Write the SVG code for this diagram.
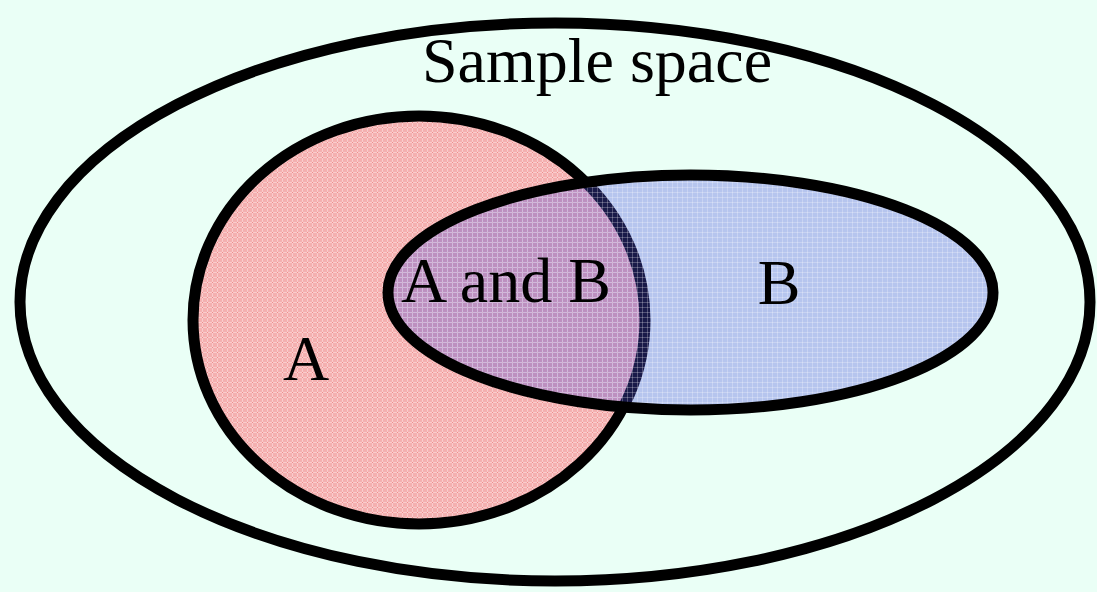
<svg xmlns="http://www.w3.org/2000/svg" width="1097" height="592" viewBox="0 0 1097 592">
<style>
.outline{stroke:#000;stroke-width:11;}
.lbl{font-family:"Liberation Serif","Times New Roman",serif;font-size:64px;fill:#000;}
</style>
<defs>
<pattern id="pa" width="5" height="5" patternUnits="userSpaceOnUse">
<rect width="5" height="5" fill="#f4b0b0"/>
<rect y="2" width="5" height="1" fill="#f9cccc"/>
<rect x="2" width="1" height="5" fill="#f9cccc"/>
<rect x="2" y="2" width="1" height="1" fill="#f08888"/>
</pattern>
<pattern id="pb" width="5" height="5" patternUnits="userSpaceOnUse">
<rect width="5" height="5" fill="#4c50dc" fill-opacity="0.33"/>
<rect y="2" width="5" height="1" fill="#ffffff" fill-opacity="0.25"/>
<rect x="2" width="1" height="5" fill="#ffffff" fill-opacity="0.25"/>
</pattern>
</defs>
<rect width="1097" height="592" fill="#eafff6"/>
<g id="sample-space">
<ellipse class="outline" cx="555" cy="302" rx="535" ry="279" fill="#eafff6"/>
<text class="lbl" x="597" y="82" text-anchor="middle">Sample space</text>
</g>
<g id="A">
<ellipse class="outline" cx="419" cy="320" rx="226" ry="204" fill="url(#pa)"/>
<text class="lbl" x="306" y="380" text-anchor="middle">A</text>
</g>
<g id="B">
<ellipse class="outline" cx="690.5" cy="292.5" rx="302.5" ry="117.5" fill="url(#pb)"/>
<text class="lbl" x="779" y="304" text-anchor="middle">B</text>
</g>
<g id="AandB">
<text class="lbl" x="506" y="302" text-anchor="middle">A and B</text>
</g>
<g id="connectors"></g>
</svg>
